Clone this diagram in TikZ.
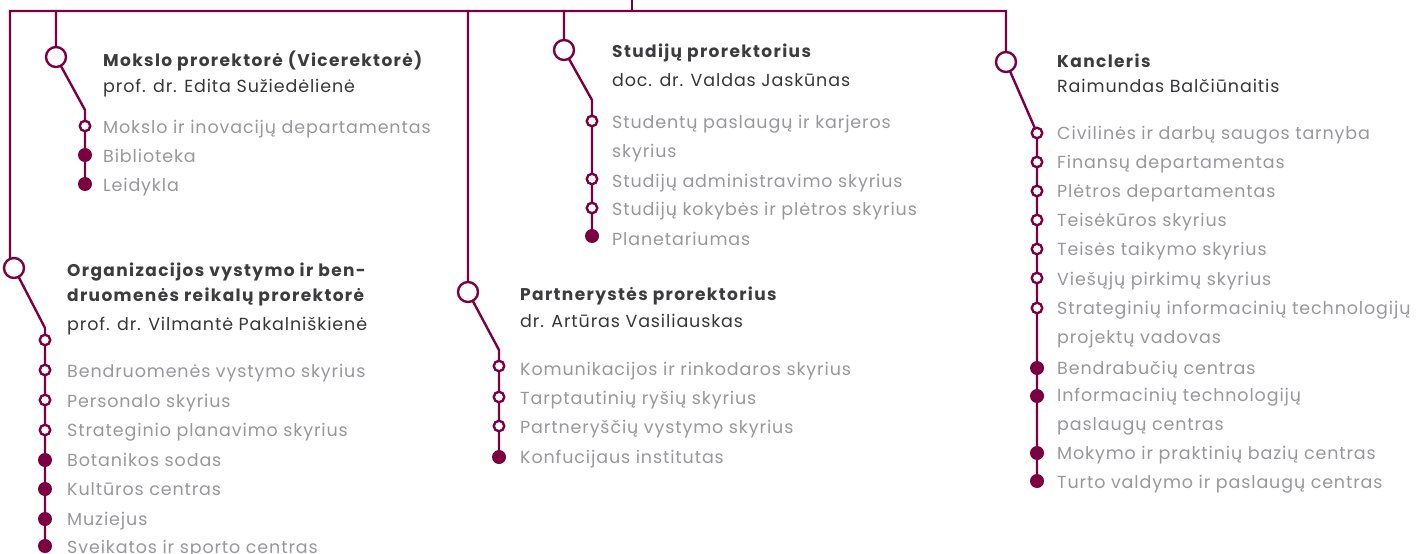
\documentclass[tikz,border=0pt]{standalone}
\usepackage{fontspec}
\setmainfont{Poppins}
\usetikzlibrary{backgrounds}
\definecolor{maroon}{RGB}{122,0,66}
\definecolor{headc}{RGB}{60,60,62}
\definecolor{namec}{RGB}{55,55,58}
\definecolor{itemc}{RGB}{152,152,156}
\tikzset{
  wire/.style={draw=maroon, line width=2.4pt},
  bigc/.style={circle, draw=maroon, line width=2.4pt, fill=white, minimum size=20pt, inner sep=0pt},
  opc/.style={circle, draw=maroon, line width=2.4pt, fill=white, minimum size=10.5pt, inner sep=0pt},
  flc/.style={circle, fill=maroon, minimum size=14pt, inner sep=0pt},
  head/.style={anchor=base west, inner sep=0pt, text=headc, font=\bfseries\fontsize{17}{20}\selectfont\addfontfeature{LetterSpace=8}},
  nm/.style={anchor=base west, inner sep=0pt, text=namec, font=\fontsize{17.5}{20}\selectfont\addfontfeature{LetterSpace=5}},
  item/.style={anchor=base west, inner sep=0pt, text=itemc, font=\fontsize{17.5}{20}\selectfont\addfontfeature{LetterSpace=5}}
}
\begin{document}
\begin{tikzpicture}[x=1pt,y=-1pt]
\useasboundingbox (0,0) rectangle (1428,554);
% top bus
\coordinate (T0) at (632,0);
\coordinate (T1) at (632,11);
\coordinate (TL) at (10,11);
\coordinate (TR) at (1006,11);
% ---------- Branch A: Mokslo
\coordinate (At) at (56,11);
\node[bigc] (A) at (56,57) {};
\coordinate (Ab) at (85,110);
\node[opc] (A1) at (85,126) {};
\node[flc] (A2) at (85,155) {};
\node[flc] (A3) at (85,184) {};
\node[head] (Ah) at (103,66) {Mokslo prorektorė (Vicerektorė)};
\node[nm] (An) at (103,92) {prof. dr. Edita Sužiedėlienė};
\node[item] (Ai1) at (103,133) {Mokslo ir inovacijų departamentas};
\node[item] (Ai2) at (103,162) {Biblioteka};
\node[item] (Ai3) at (103,191) {Leidykla};
% ---------- Branch B: Organizacijos
\coordinate (Bv) at (10,268);
\node[bigc] (B) at (14,268) {};
\coordinate (Bb) at (45,328);
\node[opc] (B0) at (45,340) {};
\node[opc] (B1) at (45,370) {};
\node[opc] (B2) at (45,400) {};
\node[opc] (B3) at (45,430) {};
\node[flc] (B4) at (45,460) {};
\node[flc] (B5) at (45,489) {};
\node[flc] (B6) at (45,519) {};
\node[flc] (B7) at (45,546) {};
\node[head] (Bh1) at (67,276) {Organizacijos vystymo ir ben-};
\node[head] (Bh2) at (67,301) {druomenės reikalų prorektorė};
\node[nm] (Bn) at (67,330) {prof. dr. Vilmantė Pakalniškienė};
\node[item] (Bi1) at (67,377) {Bendruomenės vystymo skyrius};
\node[item] (Bi2) at (67,407) {Personalo skyrius};
\node[item] (Bi3) at (67,436) {Strateginio planavimo skyrius};
\node[item] (Bi4) at (67,466) {Botanikos sodas};
\node[item] (Bi5) at (67,495) {Kultūros centras};
\node[item] (Bi6) at (67,525) {Muziejus};
\node[item] (Bi7) at (67,553) {Sveikatos ir sporto centras};
% ---------- Branch C: Studiju
\coordinate (Ct) at (564,11);
\node[bigc] (C) at (564,50) {};
\coordinate (Cb) at (592,100);
\node[opc] (C1) at (592,121) {};
\node[opc] (C2) at (592,179) {};
\node[opc] (C3) at (592,208) {};
\node[flc] (C4) at (592,236) {};
\node[head] (Ch) at (612,57) {Studijų prorektorius};
\node[nm] (Cn) at (612,86) {doc. dr. Valdas Jaskūnas};
\node[item] (Ci1) at (612,128) {Studentų paslaugų ir karjeros};
\node[item] (Ci1b) at (612,157) {skyrius};
\node[item] (Ci2) at (612,187) {Studijų administravimo skyrius};
\node[item] (Ci3) at (612,215) {Studijų kokybės ir plėtros skyrius};
\node[item] (Ci4) at (612,245) {Planetariumas};
% ---------- Branch D: Partnerystes
\coordinate (Dt) at (468,11);
\node[bigc] (D) at (468,292) {};
\coordinate (Db) at (499,350);
\node[opc] (D1) at (499,366) {};
\node[opc] (D2) at (499,397) {};
\node[opc] (D3) at (499,426) {};
\node[flc] (D4) at (499,457) {};
\node[head] (Dh) at (520,300) {Partnerystės prorektorius};
\node[nm] (Dn) at (520,327) {dr. Artūras Vasiliauskas};
\node[item] (Di1) at (520,375) {Komunikacijos ir rinkodaros skyrius};
\node[item] (Di2) at (520,404) {Tarptautinių ryšių skyrius};
\node[item] (Di3) at (520,433) {Partneryščių vystymo skyrius};
\node[item] (Di4) at (520,463) {Konfucijaus institutas};
% ---------- Branch E: Kancleris
\node[bigc] (E) at (1006,62) {};
\node[opc] (E1) at (1037,133) {};
\node[opc] (E2) at (1037,162) {};
\node[opc] (E3) at (1037,191) {};
\node[opc] (E4) at (1037,220) {};
\node[opc] (E5) at (1037,249) {};
\node[opc] (E6) at (1037,278) {};
\node[opc] (E7) at (1037,308) {};
\node[flc] (E8) at (1037,368) {};
\node[flc] (E9) at (1037,396) {};
\node[flc] (E10) at (1037,453) {};
\node[flc] (E11) at (1037,481) {};
\node[head] (Eh) at (1057,67) {Kancleris};
\node[nm] (En) at (1057,92) {Raimundas Balčiūnaitis};
\node[item] (Ei1) at (1057,139) {Civilinės ir darbų saugos tarnyba};
\node[item] (Ei2) at (1057,168) {Finansų departamentas};
\node[item] (Ei3) at (1057,197) {Plėtros departamentas};
\node[item] (Ei4) at (1057,226) {Teisėkūros skyrius};
\node[item] (Ei5) at (1057,255) {Teisės taikymo skyrius};
\node[item] (Ei6) at (1057,285) {Viešųjų pirkimų skyrius};
\node[item] (Ei7) at (1057,314) {Strateginių informacinių technologijų};
\node[item] (Ei7b) at (1057,343) {projektų vadovas};
\node[item] (Ei8) at (1057,374) {Bendrabučių centras};
\node[item] (Ei9) at (1057,401) {Informacinių technologijų};
\node[item] (Ei9b) at (1057,430) {paslaugų centras};
\node[item] (Ei10) at (1057,459) {Mokymo ir praktinių bazių centras};
\node[item] (Ei11) at (1057,488) {Turto valdymo ir paslaugų centras};
% ---------- connectors
\begin{scope}[on background layer]
\draw[wire] (T0) -- (T1);
\draw[wire] (Bv) -- (TL) -- (TR) -- (E.center) -- (E1.center) -- (E11.center);
\draw[wire] (At) -- (A.center) -- (Ab) -- (A3.center);
\draw[wire] (B.center) -- (Bb) -- (B7.center);
\draw[wire] (Ct) -- (C.center) -- (Cb) -- (C4.center);
\draw[wire] (Dt) -- (D.center) -- (Db) -- (D4.center);
\end{scope}
\end{tikzpicture}
\end{document}
